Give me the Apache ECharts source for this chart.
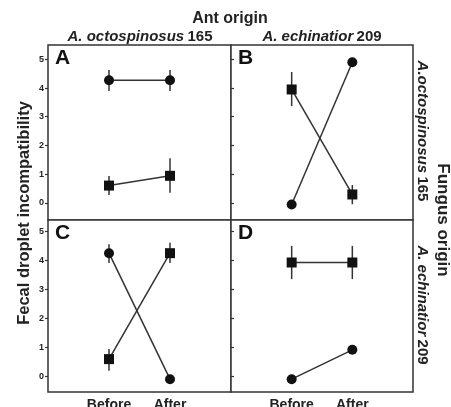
<!DOCTYPE html>
<html><head><meta charset="utf-8">
<script src="https://cdn.jsdelivr.net/npm/echarts@6/dist/echarts.min.js"></script>
<style>html,body{margin:0;padding:0;background:#fff}#c{width:451px;height:407px}</style>
</head><body><div id="c"></div>
<script>
const xCats = ['Before', 'After'];
const yTicks = [0, 1, 2, 3, 4, 5];
// Panel A
const A_circle = [4.27, 4.27];
const A_circleLo = [3.9, 3.9];
const A_circleHi = [4.63, 4.63];
const A_square = [0.6, 0.94];
const A_squareLo = [0.27, 0.35];
const A_squareHi = [0.93, 1.55];
// Panel B
const B_circle = [-0.06, 4.9];
const B_circleLo = [-0.06, 4.9];
const B_circleHi = [-0.06, 4.9];
const B_square = [3.95, 0.29];
const B_squareLo = [3.37, -0.05];
const B_squareHi = [4.56, 0.62];
// Panel C
const C_circle = [4.24, -0.09];
const C_circleLo = [3.9, -0.09];
const C_circleHi = [4.55, -0.09];
const C_square = [0.6, 4.24];
const C_squareLo = [0.2, 3.9];
const C_squareHi = [0.95, 4.6];
// Panel D
const D_circle = [-0.09, 0.92];
const D_circleLo = [-0.09, 0.92];
const D_circleHi = [-0.09, 0.92];
const D_square = [3.92, 3.92];
const D_squareLo = [3.35, 3.35];
const D_squareHi = [4.49, 4.49];

const panels = [
  {c:A_circle,cl:A_circleLo,ch:A_circleHi,s:A_square,sl:A_squareLo,sh:A_squareHi},
  {c:B_circle,cl:B_circleLo,ch:B_circleHi,s:B_square,sl:B_squareLo,sh:B_squareHi},
  {c:C_circle,cl:C_circleLo,ch:C_circleHi,s:C_square,sl:C_squareLo,sh:C_squareHi},
  {c:D_circle,cl:D_circleLo,ch:D_circleHi,s:D_square,sl:D_squareLo,sh:D_squareHi}
];

const INK = '#222';
const grids = [
  {left:48, top:45, width:183, height:175},
  {left:231, top:45, width:182, height:175},
  {left:48, top:220, width:183, height:172},
  {left:231, top:220, width:182, height:172}
].map(g => Object.assign({show:true, borderColor:'#333', borderWidth:1.5, backgroundColor:'#fff',
  containLabel:false, outerBoundsMode:'none'}, g));

const yRanges = [[-0.6,5.5],[-0.6,5.5],[-0.53,5.38],[-0.53,5.38]];

const xAxes = grids.map((g,i) => ({
  gridIndex:i, type:'value', min:0, max:3,
  axisLine:{show:false}, splitLine:{show:false}, axisTick:{show:false},
  axisLabel:{show:i>=2, customValues:[1,2], formatter:v=>xCats[v-1], margin:6,
    color:INK, fontWeight:'bold', fontSize:14, fontFamily:'Liberation Sans'}
}));
const yAxes = grids.map((g,i) => ({
  gridIndex:i, type:'value', min:yRanges[i][0], max:yRanges[i][1],
  axisLine:{show:false}, splitLine:{show:false},
  axisTick:{show:true, customValues:yTicks, inside:(i%2===1), length:3, lineStyle:{color:'#333', width:1.2}},
  axisLabel:{show:(i%2===0), customValues:yTicks, margin:4, color:INK, fontWeight:'bold', fontSize:9, fontFamily:'Liberation Sans'}
}));

const series = [];
panels.forEach((p,i) => {
  const errData = [];
  [0,1].forEach(k => {
    errData.push([k+1, p.cl[k], p.ch[k]]);
    errData.push([k+1, p.sl[k], p.sh[k]]);
  });
  series.push({
    type:'custom', xAxisIndex:i, yAxisIndex:i, z:1,
    data: errData,
    renderItem:(params, api) => {
      const lo = api.coord([api.value(0), api.value(1)]);
      const hi = api.coord([api.value(0), api.value(2)]);
      return {type:'line', shape:{x1:lo[0],y1:lo[1],x2:hi[0],y2:hi[1]}, style:{stroke:'#333', lineWidth:1.5}};
    }
  });
  series.push({
    type:'line', xAxisIndex:i, yAxisIndex:i, z:3,
    data: p.c.map((v,k)=>[k+1,v]), symbol:'circle', symbolSize:10,
    itemStyle:{color:'#111'}, lineStyle:{color:'#333', width:1.5}, silent:true
  });
  series.push({
    type:'line', xAxisIndex:i, yAxisIndex:i, z:3,
    data: p.s.map((v,k)=>[k+1,v]), symbol:'rect', symbolSize:10,
    itemStyle:{color:'#111'}, lineStyle:{color:'#333', width:1.5}, silent:true
  });
});

const letters = ['A','B','C','D'];
const letterPos = [[55,48],[238,48],[55,223],[238,223]];
const rich15 = {i:{font:'italic bold 15px "Liberation Sans"', fill:INK}, n:{font:'bold 15px "Liberation Sans"', fill:INK}};
const graphic = [
  {type:'text', x:230, y:19, style:{text:'Ant origin', align:'center', verticalAlign:'middle', font:'bold 16px "Liberation Sans"', fill:INK}},
  {type:'text', x:140, y:37, style:{text:'{i|A. octospinosus} {n|165}', align:'center', verticalAlign:'middle', rich:rich15}},
  {type:'text', x:322, y:37, style:{text:'{i|A. echinatior} {n|209}', align:'center', verticalAlign:'middle', rich:rich15}},
  {type:'text', x:24, y:213, rotation:Math.PI/2, style:{text:'Fecal droplet incompatibility', align:'center', verticalAlign:'middle', font:'bold 16.5px "Liberation Sans"', fill:INK}},
  {type:'text', x:422, y:131, rotation:-Math.PI/2, style:{text:'{i|A.octospinosus} {n|165}', align:'center', verticalAlign:'middle', rich:rich15}},
  {type:'text', x:422, y:305, rotation:-Math.PI/2, style:{text:'{i|A. echinatior} {n|209}', align:'center', verticalAlign:'middle', rich:rich15}},
  {type:'text', x:443, y:220, rotation:-Math.PI/2, style:{text:'Fungus origin', align:'center', verticalAlign:'middle', font:'bold 17px "Liberation Sans"', fill:INK}}
];
letters.forEach((L,i) => graphic.push({type:'text', x:letterPos[i][0], y:letterPos[i][1], z:10,
  style:{text:L, font:'bold 21px "Liberation Sans"', fill:'#111'}}));

const chart = echarts.init(document.getElementById('c'), null, {renderer:'canvas'});
chart.setOption({
  animation:false,
  backgroundColor:'#fff',
  grid:grids, xAxis:xAxes, yAxis:yAxes, series:series, graphic:graphic
});
</script></body></html>
